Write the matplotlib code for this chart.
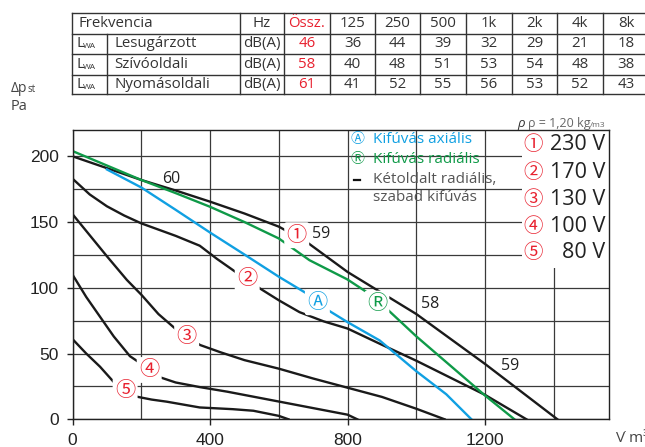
import matplotlib.pyplot as plt
from matplotlib.lines import Line2D
from matplotlib.patches import Rectangle

# --- data ---
# fan curves, flow (m3/h) vs static pressure (Pa)
flow_230 = [0, 100, 200, 300, 400, 500, 600, 680, 800, 900, 1000, 1100, 1200, 1300, 1410]
dp_230 = [200, 191, 182, 174, 165.5, 156.5, 146.5, 135, 112, 96, 80, 61, 42, 22, 0]

flow_170 = [0, 50, 100, 150, 200, 300, 370, 420, 480, 545, 600, 660, 730, 800, 893, 1000, 1100, 1200, 1320]
dp_170 = [183, 171, 162, 155, 149, 139.5, 132, 122, 111, 99.5, 90.5, 81.5, 74.5, 69, 57.5, 44.5, 31.5, 18.5, 0]

flow_130 = [0, 50, 100, 158, 201, 250, 303, 371, 430, 500, 600, 700, 800, 900, 1000, 1082]
dp_130 = [156, 140, 124, 106, 94.5, 80, 68, 56.5, 51, 45, 38.5, 31, 24, 17, 8, 0]

flow_100 = [0, 40, 80, 120, 167, 201, 254, 300, 370, 450, 600, 700, 800, 828]
dp_100 = [110, 93, 78, 63, 48, 42, 32, 28, 24.5, 21, 13.5, 8.5, 3.5, 0]

flow_80 = [0, 40, 80, 119, 153, 187, 230, 274, 370, 466, 526, 600, 628]
dp_80 = [61, 50, 40, 28.6, 21.5, 17.2, 15, 13.4, 9, 7.7, 6.5, 2.6, 0]

flow_axial = [100, 200, 300, 400, 500, 600, 689, 743, 799, 893, 1000, 1087, 1160]
dp_axial = [190, 176.3, 159.3, 142, 125.3, 108.4, 94.4, 83, 74, 60, 36.5, 19, 0]

flow_radial = [0, 100, 200, 300, 400, 500, 600, 689, 799, 854, 918, 1000, 1100, 1200, 1285]
dp_radial = [204, 193, 182, 172, 161.6, 150, 137.5, 121, 106.4, 97, 83, 63, 40.5, 18, 0]

# sound table
freq_header = ["125", "250", "500", "1k", "2k", "4k", "8k"]
row_names = ["Lesugárzott", "Szívóoldali", "Nyomásoldali"]
totals = [46, 58, 61]
band_levels = [[36, 44, 39, 32, 29, 21, 18],
               [40, 48, 51, 53, 54, 48, 38],
               [41, 52, 55, 56, 53, 52, 43]]

voltages = ["230 V", "170 V", "130 V", "100 V", "80 V"]
circled = ["①", "②", "③", "④", "⑤"]

# label placements on the curves
curve_marks = [("①", 652, 140), ("②", 508, 107), ("③", 332, 63), ("④", 223, 37.5), ("⑤", 153, 21.7)]
level_marks = [("60", 288, 183), ("59", 723, 141), ("58", 1040, 88), ("59", 1273, 40.5)]

BLUE = "#10a0e2"
GREEN = "#0f9a48"
RED = "#e8202e"
TXT = "#333333"
CJK = ["Noto Sans CJK JP", "DejaVu Sans"]
OPEN = ["Open Sans", "DejaVu Sans"]

W, H = 645, 447
fig = plt.figure(figsize=(W / 100, H / 100), dpi=100)


def ftext(x, y, s, **kw):
    # place text in figure pixel coords (origin top-left)
    return fig.text(x / W, 1 - y / H, s, **kw)


def fline(xs, ys, **kw):
    fig.add_artist(Line2D([x / W for x in xs], [1 - y / H for y in ys], **kw))


ax = fig.add_axes([72.5 / W, 1 - 419.3 / H, (609 - 72.5) / W, (419.3 - 130) / H])
ax.set_xlim(0, 1560)
ax.set_ylim(0, 220)
ax.set_axisbelow(True)

ax.set_xticks([0, 400, 800, 1200])
ax.set_xticks([200, 600, 1000, 1400], minor=True)
ax.set_yticks([0, 50, 100, 150, 200])
ax.set_yticks([25, 75, 125, 175], minor=True)
ax.tick_params(which="major", length=4, width=1, color="#222", labelsize=12.5, pad=6, direction="out")
ax.tick_params(which="minor", length=0)
for lab in ax.get_xticklabels() + ax.get_yticklabels():
    lab.set_fontfamily("Liberation Sans")
    lab.set_color("#222")
ax.grid(True, which="both", color="#3a3a3a", lw=0.9)
for sp in ax.spines.values():
    sp.set_color("#222")
    sp.set_linewidth(1)

# white box for the voltage legend
ax.add_patch(Rectangle((1307, 115), 260, 110, facecolor="white", edgecolor="none", zorder=1))

lw = 1.7
ax.plot(flow_230, dp_230, color="#1a1a1a", lw=lw, zorder=2)
ax.plot(flow_170, dp_170, color="#1a1a1a", lw=lw, zorder=2)
ax.plot(flow_130, dp_130, color="#1a1a1a", lw=lw, zorder=2)
ax.plot(flow_100, dp_100, color="#1a1a1a", lw=lw, zorder=2)
ax.plot(flow_80, dp_80, color="#1a1a1a", lw=lw, zorder=2)
ax.plot(flow_axial, dp_axial, color=BLUE, lw=lw, zorder=2.2)
ax.plot(flow_radial, dp_radial, color=GREEN, lw=lw, zorder=2.1)

box = dict(boxstyle="round,pad=0.12", fc="white", ec="none")
for s, x, y in curve_marks:
    ax.text(x, y, s, color=RED, fontsize=14.5, family=CJK, ha="center", va="center", bbox=box, zorder=4)
ax.text(712, 89, "Ⓐ", color=BLUE, fontsize=14.5, family=CJK, ha="center", va="center", bbox=box, zorder=4)
ax.text(885, 88, "Ⓡ", color=GREEN, fontsize=14.5, family=CJK, ha="center", va="center", bbox=box, zorder=4)
for s, x, y in level_marks:
    ax.text(x, y, s, color="#222", fontsize=11.5, family=OPEN, ha="center", va="center", zorder=4)

# legend of the curve types
ftext(357, 139.5, "Ⓐ", color=BLUE, fontsize=10, family=CJK, ha="center", va="center")
ftext(373, 139.5, "Kifúvás axiális", color=BLUE, fontsize=11, family=OPEN, va="center")
ftext(357, 159.5, "Ⓡ", color=GREEN, fontsize=10, family=CJK, ha="center", va="center")
ftext(373, 159.5, "Kifúvás radiális", color=GREEN, fontsize=11, family=OPEN, va="center")
fline([353.5, 359.5], [179.5, 179.5], color="#111", lw=1.6)
ftext(373, 179.5, "Kétoldalt radiális,", color="#555", fontsize=11, family=OPEN, va="center")
ftext(373, 197.5, "szabad kifúvás", color="#555", fontsize=11, family=OPEN, va="center")

# voltage legend
for i, (c, v) in enumerate(zip(circled, voltages)):
    y = 145 + i * 27
    ftext(533, y, c, color=RED, fontsize=14, family=CJK, ha="center", va="center")
    ftext(605, y, v, color="#222", fontsize=15.5, family=OPEN, ha="right", va="center")

# air density note
ftext(517, 124, "ρ", color="#333", fontsize=9.5, family=OPEN, style="italic", va="center")
ftext(528, 124, "ρ = 1,20 kg", color="#666", fontsize=9, family=OPEN, va="center")
ftext(590, 125.5, "/m3", color="#666", fontsize=6, family=OPEN, va="center")

# axis titles
ftext(11, 88, "Δp", color="#444", fontsize=10, family=OPEN, va="center")
ftext(28, 90, "st", color="#444", fontsize=7, family=OPEN, va="center")
ftext(11, 106.5, "Pa", color="#444", fontsize=10.5, family=OPEN, va="center")
ftext(616, 438, "V̇ m³/h", color="#444", fontsize=11, family=OPEN, va="center")

# sound power table
col_x = [72.3, 240, 284, 330, 375, 420, 466, 512, 557, 603, 649]
row_y = [13.3, 33.5, 54, 74.5, 94.3]
tkw = dict(color="#333", lw=1)
for y in row_y:
    fline([col_x[0], col_x[-1]], [y, y], **tkw)
for x in col_x:
    fline([x, x], [row_y[0], row_y[-1]], **tkw)
fline([106.7, 106.7], [row_y[1], row_y[-1]], **tkw)

fs = 10.8
yc = [(row_y[i] + row_y[i + 1]) / 2 for i in range(4)]
ftext(78, yc[0], "Frekvencia", color=TXT, fontsize=fs, family=OPEN, va="center")
ftext((col_x[1] + col_x[2]) / 2, yc[0], "Hz", color=TXT, fontsize=fs, family=OPEN, ha="center", va="center")
ftext((col_x[2] + col_x[3]) / 2, yc[0], "Össz.", color=RED, fontsize=fs, family=OPEN, ha="center", va="center")
for j, f in enumerate(freq_header):
    ftext((col_x[3 + j] + col_x[4 + j]) / 2, yc[0], f, color=TXT, fontsize=fs, family=OPEN, ha="center", va="center")
for i, name in enumerate(row_names):
    y = yc[i + 1]
    ftext(76, y, "L", color=TXT, fontsize=fs, family=OPEN, va="center")
    ftext(83, y + 3, "WA", color=TXT, fontsize=6, family=OPEN, va="center")
    ftext(114, y, name, color=TXT, fontsize=fs, family=OPEN, va="center")
    ftext((col_x[1] + col_x[2]) / 2, y, "dB(A)", color=TXT, fontsize=fs, family=OPEN, ha="center", va="center")
    ftext((col_x[2] + col_x[3]) / 2, y, str(totals[i]), color=RED, fontsize=fs, family=OPEN, ha="center", va="center")
    for j, val in enumerate(band_levels[i]):
        ftext((col_x[3 + j] + col_x[4 + j]) / 2, y, str(val), color=TXT, fontsize=fs, family=OPEN, ha="center", va="center")

fig.savefig("out.png", dpi=100)
